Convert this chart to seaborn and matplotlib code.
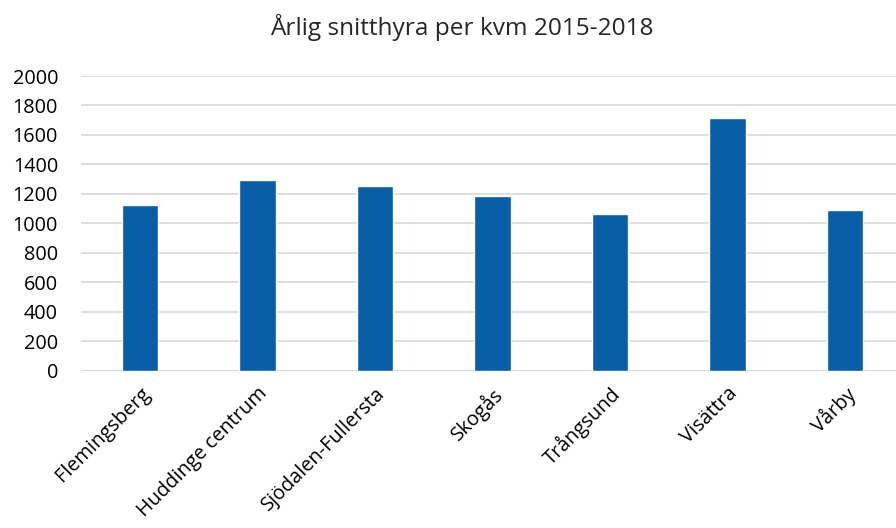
import pandas as pd
import matplotlib.pyplot as plt
import seaborn as sns

# Data
areas = ['Flemingsberg', 'Huddinge centrum', 'Sjödalen-Fullersta', 'Skogås',
         'Trångsund', 'Visättra', 'Vårby']
rent = [1127, 1294, 1256, 1184, 1066, 1713, 1089]

df = pd.DataFrame({'area': areas, 'rent': rent})

sns.set_style('white')
plt.rcParams['font.family'] = ['Open Sans', 'DejaVu Sans']

fig = plt.figure(figsize=(8.96, 5.28), dpi=100)
ax = fig.add_axes([81 / 896, 1 - 370.7 / 528, 823 / 896, 294.7 / 528])

sns.barplot(x='area', y='rent', data=df, color='#085EA7', width=0.31,
            saturation=1, ax=ax, zorder=3)

ax.set_ylim(0, 2000)
ax.set_yticks(range(0, 2001, 200))
ax.yaxis.grid(True, color='#D9D9D9', linewidth=1.2, zorder=0)
ax.set_axisbelow(True)
for s in ax.spines.values():
    s.set_visible(False)
ax.axhline(0, color='#D9D9D9', linewidth=1.2, zorder=1)

ax.set_xlabel('')
ax.set_ylabel('')
ax.tick_params(axis='both', length=0, labelsize=14.3, colors='black')
ax.tick_params(axis='y', pad=16.5)
ax.tick_params(axis='x', pad=9)
plt.setp(ax.get_xticklabels(), rotation=45, ha='right', rotation_mode='anchor')

fig.suptitle('Årlig snitthyra per kvm 2015-2018', x=462 / 896, y=1 - 14 / 528,
             va='top', fontsize=17.6)

fig.savefig('out.png', dpi=100)
